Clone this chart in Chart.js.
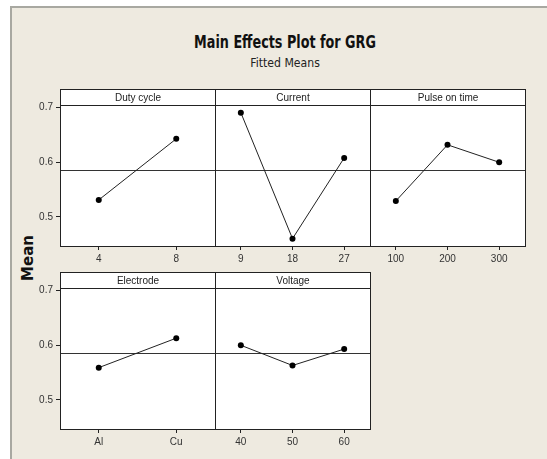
<!DOCTYPE html>
<html>
<head>
<meta charset="utf-8">
<script src="https://cdn.jsdelivr.net/npm/chart.js@4.4.1/dist/chart.umd.min.js"></script>
<style>
  body { margin: 0; background: #fff; width: 547px; height: 459px; overflow: hidden; position: relative; }
  #frame { position: absolute; left: 10px; top: 6px; right: 0; bottom: 0; background: #eeeae0;
           border-left: 2px solid #a8a8a1; border-top: 2px solid #a8a8a1; }
  .txt { position: absolute; font-family: 'DejaVu Sans', sans-serif; color: #111; white-space: nowrap; }
  #title { left: 285px; top: 41px; transform: translate(-50%, -50%) scaleX(0.71); font-size: 18px; font-weight: bold; }
  #subtitle { left: 285px; top: 62px; transform: translate(-50%, -50%) scaleX(0.84); font-size: 13px; color: #222; }
  #ylabel { left: 28px; top: 258px; transform: translate(-50%, -50%) rotate(-90deg); font-size: 15px; font-weight: bold; }
  canvas { position: absolute; }
</style>
</head>
<body>
<div id="frame"></div>
<div class="txt" id="title">Main Effects Plot for GRG</div>
<div class="txt" id="subtitle">Fitted Means</div>
<div class="txt" id="ylabel">Mean</div>

<script>
// factor names and their levels
const panelNames = ['Duty cycle', 'Current', 'Pulse on time', 'Electrode', 'Voltage'];

const dutyLevels = ['4', '8'];
const dutyMeans = [0.531, 0.643];

const currentLevels = ['9', '18', '27'];
const currentMeans = [0.691, 0.460, 0.608];

const pulseLevels = ['100', '200', '300'];
const pulseMeans = [0.529, 0.632, 0.600];

const electrodeLevels = ['Al', 'Cu'];
const electrodeMeans = [0.559, 0.613];

const voltageLevels = ['40', '50', '60'];
const voltageMeans = [0.600, 0.563, 0.593];

// overall mean (reference line) and y axis
const grandMean = 0.586;
const yTicks = [0.5, 0.6, 0.7];
const yMin = 0.4465;
const yMax = 0.705;

const FONT = "'Liberation Sans', Arial, sans-serif";
const STRIP = 16;     // height of the header strip
const AXIS_W = 40;    // room for y tick labels in the left column
const AXIS_H = 24;    // room for x tick labels
const PANEL_W = 155;
const PANEL_H = 141;

// draws the white panel, header strip, frame and the mean line
const panelFrame = {
    id: 'panelFrame',
    beforeDraw(chart, args, opts) {
        const {ctx, chartArea: a} = chart;
        ctx.save();
        ctx.fillStyle = '#ffffff';
        ctx.fillRect(a.left, a.top - STRIP, a.right - a.left, a.bottom - a.top + STRIP);
        ctx.restore();
    },
    beforeDatasetsDraw(chart, args, opts) {
        const {ctx, chartArea: a, scales} = chart;
        const y = Math.round(scales.y.getPixelForValue(grandMean)) + 0.5;
        ctx.save();
        ctx.strokeStyle = '#333';
        ctx.lineWidth = 1;
        ctx.beginPath();
        ctx.moveTo(a.left, y);
        ctx.lineTo(a.right, y);
        ctx.stroke();
        ctx.restore();
    },
    afterDraw(chart, args, opts) {
        const {ctx, chartArea: a} = chart;
        const l = Math.round(a.left) + 0.5;
        const r = Math.round(a.right) + 0.5;
        const t = Math.round(a.top) + 0.5;
        const b = Math.round(a.bottom) + 0.5;
        ctx.save();
        ctx.strokeStyle = '#222';
        ctx.lineWidth = 1;
        ctx.strokeRect(l, t - STRIP, r - l, b - t + STRIP);
        ctx.beginPath();
        ctx.moveTo(l, t);
        ctx.lineTo(r, t);
        ctx.stroke();
        ctx.fillStyle = '#222';
        ctx.font = '10px ' + FONT;
        ctx.textAlign = 'center';
        ctx.textBaseline = 'middle';
        ctx.fillText(opts.name, (l + r) / 2, t - STRIP / 2 + 1);
        ctx.restore();
    }
};

function makePanel(name, levels, means, left, top, showY) {
    const canvas = document.createElement('canvas');
    const axisW = showY ? AXIS_W : 0;
    canvas.width = axisW + PANEL_W + 1;
    canvas.height = STRIP + PANEL_H + AXIS_H;
    canvas.style.left = (left - axisW) + 'px';
    canvas.style.top = (top - STRIP) + 'px';
    document.body.appendChild(canvas);

    new Chart(canvas, {
        type: 'line',
        data: {
            labels: levels,
            datasets: [{
                data: means,
                borderColor: '#222',
                borderWidth: 1,
                pointRadius: 3,
                pointBackgroundColor: '#000',
                pointBorderColor: '#000',
                pointBorderWidth: 0,
                tension: 0,
                fill: false
            }]
        },
        plugins: [panelFrame],
        options: {
            responsive: false,
            animation: false,
            events: [],
            layout: {
                autoPadding: false,
                padding: {top: STRIP, left: 0, right: 1, bottom: 0}
            },
            plugins: {
                legend: {display: false},
                tooltip: {enabled: false},
                panelFrame: {name: name}
            },
            scales: {
                x: {
                    type: 'category',
                    offset: true,
                    border: {display: false},
                    grid: {offset: false, drawOnChartArea: false, drawTicks: true, tickLength: 4, color: '#222'},
                    ticks: {color: '#333', padding: 3, maxRotation: 0, font: {family: FONT, size: 10}},
                    afterFit(scale) { scale.height = AXIS_H; }
                },
                y: {
                    display: showY,
                    min: yMin,
                    max: yMax,
                    border: {display: false},
                    grid: {drawOnChartArea: false, drawTicks: true, tickLength: 4, color: '#222'},
                    ticks: {
                        color: '#333', padding: 3, font: {family: FONT, size: 10},
                        callback: v => v.toFixed(1)
                    },
                    afterBuildTicks(scale) { scale.ticks = yTicks.map(v => ({value: v})); },
                    afterFit(scale) { scale.width = axisW; }
                }
            }
        }
    });
}

makePanel(panelNames[0], dutyLevels, dutyMeans, 60, 105, true);
makePanel(panelNames[1], currentLevels, currentMeans, 215, 105, false);
makePanel(panelNames[2], pulseLevels, pulseMeans, 370, 105, false);
makePanel(panelNames[3], electrodeLevels, electrodeMeans, 60, 288, true);
makePanel(panelNames[4], voltageLevels, voltageMeans, 215, 288, false);
</script>
</body>
</html>
